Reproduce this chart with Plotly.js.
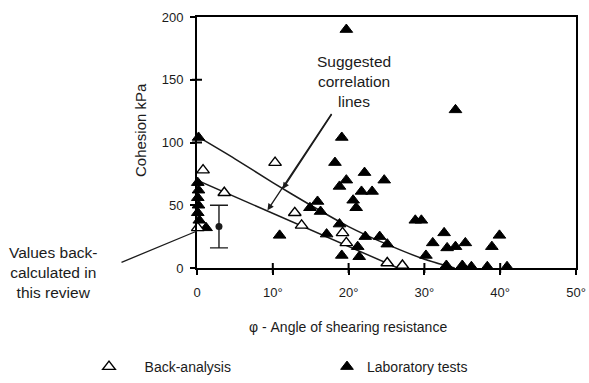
<!DOCTYPE html>
<html>
<head>
<meta charset="utf-8">
<script src="https://cdn.plot.ly/plotly-3.0.1.min.js"></script>
<style>
  html, body { margin: 0; padding: 0; background: #fff; }
  #chart { width: 589px; height: 383px; }
</style>
</head>
<body>
<div id="chart"></div>
<script>
// Angle of shearing resistance (degrees) and cohesion (kPa)
const backAnalysisPhi = [0.8, 3.6, 0.1, 10.3, 12.9, 13.8, 19.2, 19.7, 25.1, 27.1];
const backAnalysisC   = [78, 60, 32, 84, 44, 34, 28, 20, 4, 2];

const labPhi = [0.2, 0.1, 0.2, 0.1, 0.2, 0.1, 0.3, 1.2,
                19.7, 34.1, 19.1, 18.2,
                19.7, 18.8, 22.1, 24.7, 21.7, 23.1, 20.6, 21.0,
                15.9, 14.9, 16.3,
                10.9, 17.1, 18.8,
                22.2, 24.1, 25.1,
                19.1, 21.2, 21.4,
                28.8, 29.6, 32.6, 31.1, 33.0, 34.1, 35.4, 39.9, 38.9, 30.2,
                32.9, 35.0, 36.2, 38.3, 40.9];
const labC   = [104, 68, 62, 56, 50, 44, 38, 32,
                190, 126, 104, 84,
                70, 65, 76, 70, 61, 61, 54, 48,
                53, 48, 45,
                26, 27, 35,
                25, 25, 19,
                10, 17, 9,
                38, 38, 28, 20, 16, 17, 20, 26, 17, 10,
                2, 2, 1, 1, 1];

// Range of values back-calculated in this review
const reviewPhi = [2.9];
const reviewC = [33];
const reviewHalfRange = [17];

// Suggested correlation lines
const upperLinePhi = [0, 5, 10, 15, 20, 25, 30, 34];
const upperLineC   = [105, 87, 68, 50, 33, 19, 7, 0];
const lowerLinePhi = [0, 26.5];
const lowerLineC   = [70, 0];

// Axes
const xRange = [0, 50];
const yRange = [0, 200];
const xTickVals = [0, 10, 20, 30, 40, 50];
const xTickText = ['0', '10°', '20°', '30°', '40°', '50°'];
const yTickVals = [0, 50, 100, 150, 200];
const yTickText = ['0', '50', '100', '150', '200'];
const xMarkVals = [10, 20, 30, 40];
const yMarkVals = [50, 100, 150];

const ink = '#1b1b1b';
const frameInk = '#000';
const family = 'Liberation Sans, Arial, sans-serif';
const tickFont = { family: family, size: 13, color: ink };
const titleFont = { family: family, size: 14, color: ink };
const noteFont = { family: family, size: 15.5, color: ink };

const plotW = 589 - 197 - 13;
const plotH = 383 - 17 - 115;

// line symbols are 1.4 x size long: 10 px marks crossing the axes
const tickSize = 10 / 1.4;

const traces = [
  { x: xMarkVals, y: xMarkVals.map(() => yRange[0]), mode: 'markers', cliponaxis: false,
    marker: { symbol: 'line-ns', size: tickSize, color: frameInk, line: { color: frameInk, width: 2 } },
    showlegend: false, hoverinfo: 'skip' },
  { x: yMarkVals.map(() => xRange[0]), y: yMarkVals, mode: 'markers', cliponaxis: false,
    marker: { symbol: 'line-ew', size: tickSize, color: frameInk, line: { color: frameInk, width: 2 } },
    showlegend: false, hoverinfo: 'skip' },
  { x: upperLinePhi, y: upperLineC, mode: 'lines', line: { color: ink, width: 1.5, shape: 'spline', smoothing: 0.6 },
    showlegend: false, hoverinfo: 'skip' },
  { x: lowerLinePhi, y: lowerLineC, mode: 'lines', line: { color: ink, width: 1.5 },
    showlegend: false, hoverinfo: 'skip' },
  { x: reviewPhi, y: reviewC, mode: 'markers', marker: { symbol: 'circle', size: 7, color: ink },
    error_y: { type: 'data', array: reviewHalfRange, symmetric: true, color: ink, thickness: 1.4, width: 9 },
    showlegend: false, cliponaxis: false },
  { x: labPhi, y: labC, mode: 'markers', name: 'Laboratory tests', cliponaxis: false,
    marker: { symbol: 'triangle-up', size: 11, color: '#000', line: { color: '#000', width: 1 } } },
  { x: backAnalysisPhi, y: backAnalysisC, mode: 'markers', name: '\u00a0\u00a0\u00a0\u00a0Back-analysis', cliponaxis: false,
    marker: { symbol: 'triangle-up', size: 11, color: '#fff', line: { color: '#000', width: 1.4 } } }
];

const layout = {
  width: 589, height: 383,
  margin: { l: 197, r: 13, t: 17, b: 115, autoexpand: false },
  font: titleFont,
  showlegend: true,
  legend: {
    orientation: 'h', x: (89 - 197) / plotW, xanchor: 'left', y: -99 / plotH, yanchor: 'middle',
    itemwidth: 30, entrywidth: 193, entrywidthmode: 'pixels',
    traceorder: 'reversed', font: titleFont, bgcolor: 'rgba(0,0,0,0)'
  },
  xaxis: {
    range: xRange, showgrid: false, zeroline: false,
    tickmode: 'array', tickvals: xTickVals, ticktext: xTickText,
    ticks: 'outside', ticklen: 5, tickwidth: 2, tickcolor: frameInk,
    showline: true, linecolor: frameInk, linewidth: 2, mirror: true,
    ticklabelstandoff: 6, tickfont: tickFont
  },
  yaxis: {
    range: yRange, showgrid: false, zeroline: false,
    tickmode: 'array', tickvals: yTickVals, ticktext: yTickText,
    ticks: 'outside', ticklen: 5, tickwidth: 2, tickcolor: frameInk,
    showline: true, linecolor: frameInk, linewidth: 2, mirror: true,
    ticklabelstandoff: 4, tickfont: tickFont
  },
  annotations: [
    { xref: 'paper', yref: 'paper', x: (140 - 197) / plotW, y: (268 - 130) / plotH, text: 'Cohesion kPa', textangle: -90,
      showarrow: false, xanchor: 'center', yanchor: 'middle', font: { family: family, size: 15, color: ink } },
    { xref: 'paper', yref: 'paper', x: (348 - 197) / plotW, y: (268 - 327) / plotH,
      text: 'φ - Angle of shearing resistance', showarrow: false, xanchor: 'center', yanchor: 'middle', font: titleFont },
    { xref: 'paper', yref: 'paper', x: (354 - 197) / plotW, y: (268 - 81) / plotH,
      text: 'Suggested<br>correlation<br>lines', showarrow: false, xanchor: 'center', yanchor: 'middle', font: noteFont },
    { xref: 'paper', yref: 'paper', x: (53 - 197) / plotW, y: (268 - 272) / plotH,
      text: 'Values back-<br>calculated in<br>this review', showarrow: false, xanchor: 'center', yanchor: 'middle', font: noteFont },
    // leader lines
    { x: 9.3, y: 46, text: '', showarrow: true, arrowhead: 2, arrowsize: 1, arrowwidth: 1.3, arrowcolor: ink,
      ax: 65, ay: -98, standoff: 0 },
    { x: 11.3, y: 63, text: '', showarrow: true, arrowhead: 2, arrowsize: 1, arrowwidth: 1.3, arrowcolor: ink,
      ax: 50, ay: -76, standoff: 0 },
    { x: 0, y: 29.5, text: '', showarrow: true, arrowhead: 0, arrowwidth: 1.3, arrowcolor: ink,
      ax: -77, ay: 32, standoff: 0 }
  ]
};

Plotly.newPlot('chart', traces, layout, { displayModeBar: false });
</script>
</body>
</html>
